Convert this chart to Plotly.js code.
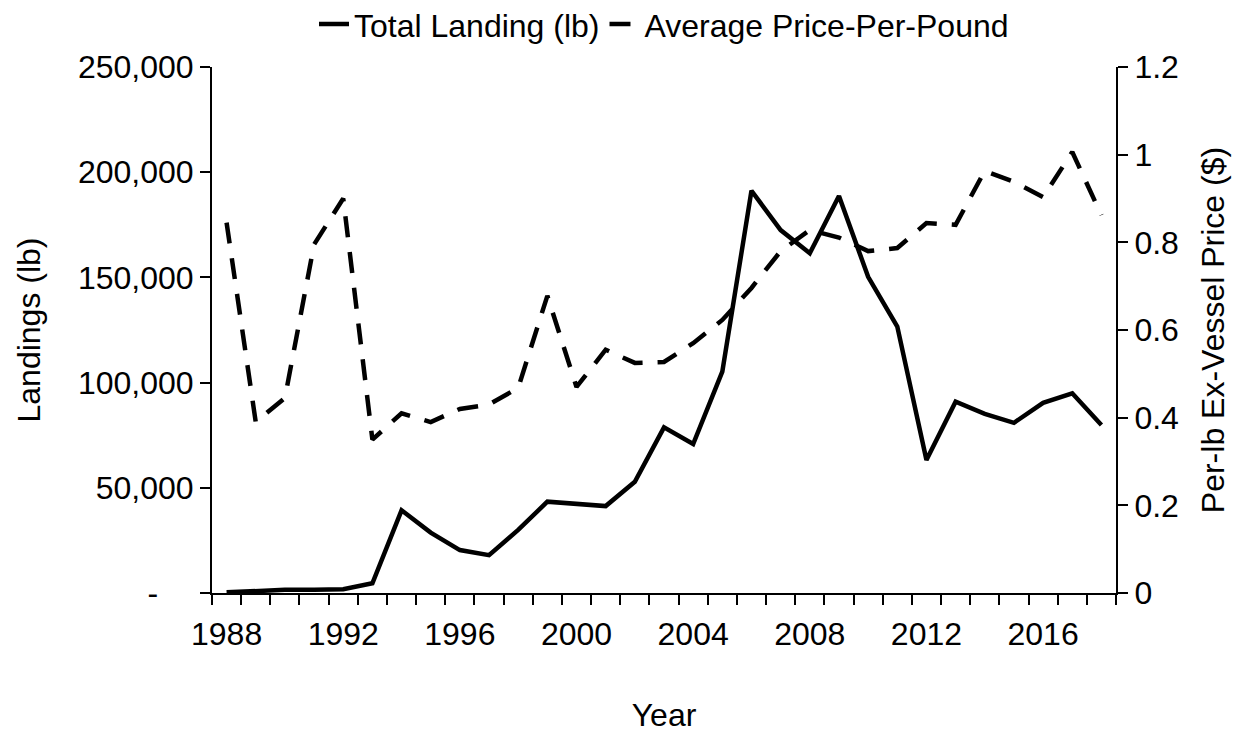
<!DOCTYPE html>
<html>
<head>
<meta charset="utf-8">
<script src="https://cdn.plot.ly/plotly-3.0.1.min.js"></script>
<style>html,body{margin:0;padding:0;background:#fff;}#chart{width:1239px;height:734px;}</style>
</head>
<body>
<div id="chart"></div>
<script>
const years = [1988,1989,1990,1991,1992,1993,1994,1995,1996,1997,1998,1999,2000,2001,2002,2003,2004,2005,2006,2007,2008,2009,2010,2011,2012,2013,2014,2015,2016,2017,2018];
const landings = [300,1000,1500,1500,1800,4600,39300,28700,20400,18000,30000,43400,42300,41300,52900,78700,70800,105200,191200,172500,161500,188700,150300,126600,63200,90900,85100,80900,90400,94900,79800];
const prices = [0.845,0.39,0.445,0.795,0.90,0.35,0.41,0.39,0.42,0.43,0.468,0.678,0.47,0.555,0.525,0.527,0.57,0.623,0.696,0.78,0.828,0.811,0.78,0.787,0.844,0.84,0.963,0.938,0.903,1.006,0.862];
const xTickVals = [1988,1992,1996,2000,2004,2008,2012,2016];
const xTickText = ['1988','1992','1996','2000','2004','2008','2012','2016'];
const yTickVals = [0,50000,100000,150000,200000,250000];
const yTickText = ['-\u00a0\u00a0\u00a0\u00a0','50,000','100,000','150,000','200,000','250,000'];
const y2TickVals = [0,0.2,0.4,0.6,0.8,1,1.2];
const y2TickText = ['0','0.2','0.4','0.6','0.8','1','1.2'];

const font = {family: 'Liberation Sans, Arial, sans-serif', size: 32, color: '#000'};

const traces = [
  {x: years, y: landings, name: 'Total Landing (lb)', type: 'scatter', mode: 'lines',
   line: {color: '#000', width: 4.5, dash: 'solid'}, yaxis: 'y'},
  {x: years, y: prices, name: 'Average Price-Per-Pound', type: 'scatter', mode: 'lines',
   line: {color: '#000', width: 4.5, dash: '21px,15px'}, yaxis: 'y2'}
];

const layout = {
  width: 1239, height: 734,
  margin: {l: 212, r: 123, t: 67, b: 141, autoexpand: false},
  paper_bgcolor: '#fff', plot_bgcolor: '#fff',
  font: font,
  showlegend: true,
  legend: {orientation: 'h', x: 0.5, xanchor: 'center', y: 1.029, yanchor: 'bottom',
           font: font, bgcolor: 'rgba(0,0,0,0)', tracegroupgap: 0},
  xaxis: {
    range: [1987.5, 2018.5], tickmode: 'array', tickvals: xTickVals, ticktext: xTickText,
    ticks: '', showgrid: false, zeroline: false, showline: true, linecolor: '#000', linewidth: 2,
    ticklabelstandoff: 12,
    minor: {tickmode: 'linear', tick0: 1987.5, dtick: 1, ticks: 'outside', ticklen: 10, tickwidth: 2, tickcolor: '#000', showgrid: false},
    title: {text: 'Year', font: font, standoff: 52},
    tickfont: font
  },
  yaxis: {
    range: [0, 250000], tickmode: 'array', tickvals: yTickVals, ticktext: yTickText,
    ticks: 'outside', ticklen: 10, tickwidth: 2, tickcolor: '#000',
    showgrid: false, zeroline: false, showline: true, linecolor: '#000', linewidth: 2,
    title: {text: 'Landings (lb)', font: font, standoff: 28},
    tickfont: font
  },
  yaxis2: {
    range: [0, 1.2], overlaying: 'y', side: 'right', tickmode: 'array', tickvals: y2TickVals, ticktext: y2TickText,
    ticks: 'outside', ticklen: 10, tickwidth: 2, tickcolor: '#000',
    showgrid: false, zeroline: false, showline: true, linecolor: '#000', linewidth: 2,
    title: {text: 'Per-lb Ex-Vessel Price ($)', font: font, standoff: 24},
    tickfont: font
  }
};

Plotly.newPlot('chart', traces, layout, {displayModeBar: false, staticPlot: true});
</script>
</body>
</html>
